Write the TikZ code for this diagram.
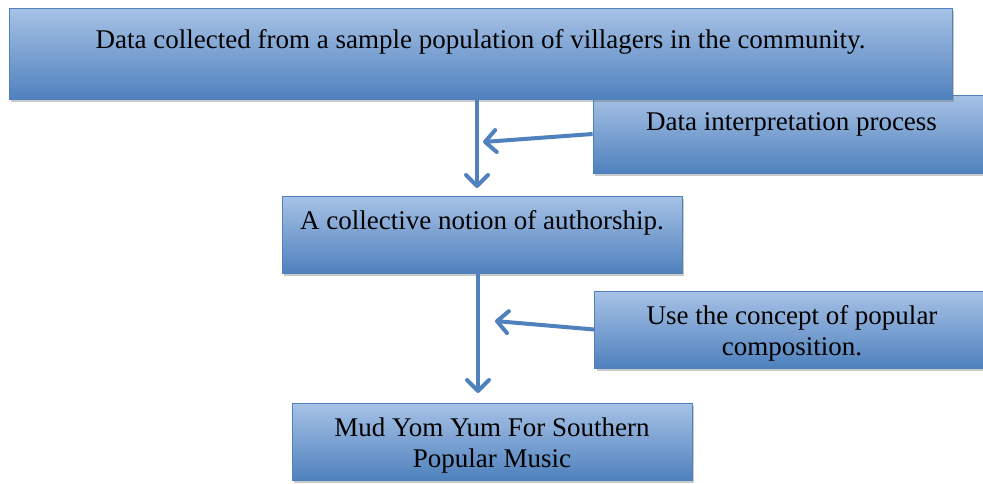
\documentclass[tikz,border=0pt]{standalone}
\usepackage{fontspec}
\setmainfont{Liberation Serif}
\usetikzlibrary{positioning, shadows, arrows.meta}
\definecolor{boxblue}{RGB}{79,129,189}
\definecolor{boxlight}{RGB}{167,194,230}

\begin{document}
\begin{tikzpicture}[x=1pt,y=-1pt,
  flowbox/.style={draw=boxblue, line width=0.8pt, top color=boxlight, bottom color=boxblue,
    drop shadow={shadow xshift=2pt, shadow yshift=-3pt, fill=black!60, opacity=0.35},
    inner sep=0pt, align=center, font=\fontsize{27}{31}\selectfont},
  flowarrow/.style={draw=boxblue, line width=4pt, -{Straight Barb[length=11pt,width=22pt,round]}}]
  \useasboundingbox (0,0) rectangle (983,483);

  % boxes (the side box first, it sits under the top one)
  \node[flowbox, minimum width=397pt, text height=35pt, text depth=43pt] (interp) at (791.5,134) {Data interpretation process};
  \node[flowbox, minimum width=943pt, text height=40pt, text depth=51pt] (collect) at (480.5,53.5) {Data collected from a sample population of villagers in the community.};
  \node[flowbox, minimum width=400pt, text height=33pt, text depth=44pt] (notion) at (482,234.5) {A collective notion of authorship.};
  \node[flowbox, minimum width=395pt, text height=64pt, text depth=13pt] (concept) at (792,329.5) {Use the concept of popular\\composition.};
  \node[flowbox, minimum width=400pt, text height=64pt, text depth=13pt] (mud) at (492,441.5) {Mud Yom Yum For Southern\\Popular Music};

  % arrow tips stop short of the boxes
  \coordinate (tip1) at (477,188);
  \coordinate (tip2) at (483,142);
  \coordinate (tip3) at (478,393);
  \coordinate (tip4) at (495,321);

  \draw[flowarrow] (collect.south -| tip1) -- (tip1);
  \draw[flowarrow] (interp.west) -- (tip2);
  \draw[flowarrow] (notion.south -| tip3) -- (tip3);
  \draw[flowarrow] (concept.west) -- (tip4);
\end{tikzpicture}
\end{document}
